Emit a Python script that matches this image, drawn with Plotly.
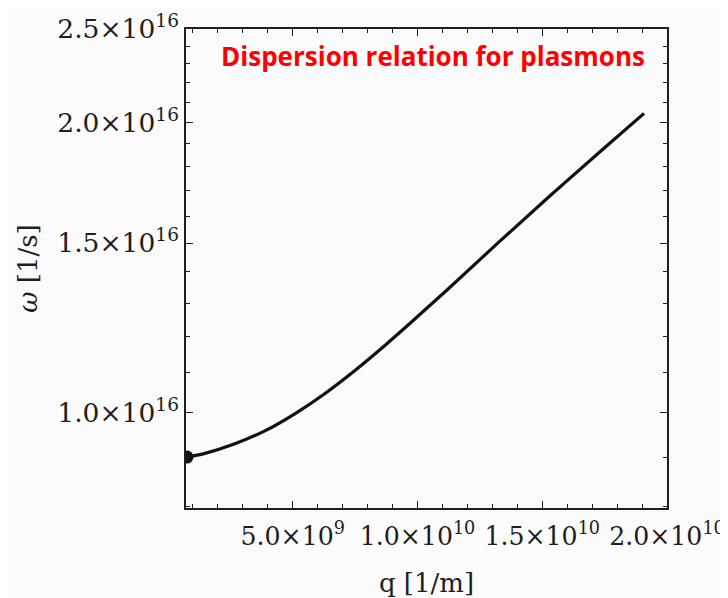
import plotly.graph_objects as go
import math

# Data
q_vals = [0.76e9, 1.48e9, 2.68e9, 3.88e9, 5.08e9, 6.28e9, 7.48e9, 8.68e9, 9.68e9,
          11.28e9, 13.28e9, 15.28e9, 17.28e9, 19.08e9]
omega_vals = [0.900e16, 0.908e16, 0.929e16, 0.958e16, 0.998e16, 1.047e16, 1.106e16,
              1.174e16, 1.237e16, 1.348e16, 1.505e16, 1.676e16, 1.862e16, 2.044e16]

x_tickvals = [5.0e9, 1.0e10, 1.5e10, 2.0e10]
x_ticktext = ["5.0×10<sup>9</sup>", "1.0×10<sup>10</sup>", "1.5×10<sup>10</sup>", "2.0×10<sup>10</sup>"]
y_tickvals = [1.0e16, 1.5e16, 2.0e16, 2.5e16]
y_ticktext = ["1.0×10<sup>16</sup>", "1.5×10<sup>16</sup>", "2.0×10<sup>16</sup>", "2.5×10<sup>16</sup>"]
y_minorvals = [0.8e16, 0.9e16, 1.1e16, 1.2e16, 1.3e16, 1.4e16, 1.6e16, 1.7e16, 1.8e16,
               1.9e16, 2.1e16, 2.2e16, 2.3e16, 2.4e16]

title_text = "Dispersion relation for plasmons"

serif = "DejaVu Serif"
ink = "#1e1e1e"

fig = go.Figure()
fig.add_trace(go.Scatter(
    x=q_vals, y=omega_vals, mode="lines",
    line=dict(color="#111111", width=3.2, shape="spline"),
    showlegend=False, hoverinfo="skip"))
fig.add_trace(go.Scatter(
    x=[q_vals[0]], y=[omega_vals[0]], mode="markers",
    marker=dict(color="#111111", size=13),
    showlegend=False, hoverinfo="skip"))

axis_common = dict(
    showline=True, linecolor=ink, linewidth=1.5, mirror="ticks",
    ticks="inside", ticklen=7, tickwidth=1.2, tickcolor=ink,
    showgrid=False, zeroline=False,
)

fig.update_xaxes(
    **axis_common,
    tickfont=dict(family=serif, size=25.2, color=ink),
    range=[0.72e9, 2.0e10],
    tickmode="array", tickvals=x_tickvals, ticktext=x_ticktext,
    ticklabelstandoff=5,
    minor=dict(tickmode="linear", tick0=0, dtick=1e9, ticks="inside", ticklen=4,
               tickwidth=1, tickcolor=ink, showgrid=False),
    title=dict(text="q [1/m]", font=dict(family=serif, size=26, color=ink), standoff=26),
)
fig.update_yaxes(
    **axis_common,
    tickfont=dict(family=serif, size=26.5, color=ink),
    type="log",
    range=[math.log10(0.797e16), math.log10(2.5e16)],
    tickmode="array", tickvals=y_tickvals, ticktext=y_ticktext,
    minor=dict(tickmode="array", tickvals=y_minorvals, ticks="inside", ticklen=4,
               tickwidth=1, tickcolor=ink, showgrid=False),
    title=dict(text="<i>ω</i> [1/s]", font=dict(family=serif, size=26, color=ink), standoff=12),
)

fig.update_layout(
    width=720, height=590,
    margin=dict(l=178, r=61, t=21, b=90, autoexpand=False),
    paper_bgcolor="#fbfbfb", plot_bgcolor="#fbfbfb",
    title=dict(text="<b>" + title_text + "</b>", x=425 / 720, y=1 - 49 / 590,
               xanchor="center", yanchor="middle", xref="container", yref="container",
               font=dict(family="Open Sans", size=26, color="#ff0000")),
)

fig.write_html("out.html")
